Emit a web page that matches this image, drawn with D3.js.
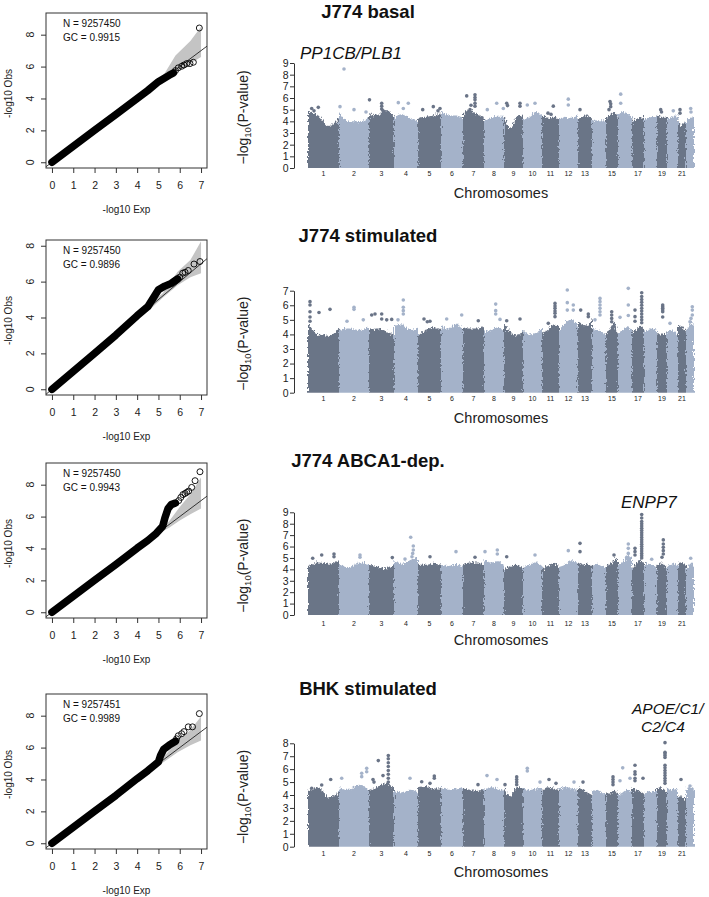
<!DOCTYPE html>
<html><head><meta charset="utf-8">
<script src="https://cdn.jsdelivr.net/npm/d3@7"></script>
<style>body{margin:0;background:#fff} text{font-family:Arial,"Liberation Sans",Helvetica,sans-serif}</style>
</head><body><svg id="c" width="709" height="897"></svg>
<script>
// ---------------- DATA ----------------
const panelTitles = ["J774 basal", "J774 stimulated", "J774 ABCA1-dep.", "BHK stimulated"];
const qqN = ["9257450", "9257450", "9257450", "9257451"];
const qqGC = ["0.9915", "0.9896", "0.9943", "0.9989"];
const qqTicksX = [0, 1, 2, 3, 4, 5, 6, 7];
const qqTicksY = [0, 2, 4, 6, 8];
const qqYMax = [9, 8, 9, 9];

// bulk of QQ points (expected, observed)
const qqBulk1 = [[0,0],[1,1],[2,2],[3,3],[4,4],[4.5,4.5],[5,5.05],[5.5,5.45],[5.7,5.6]];
const qqBulk2 = [[0,0],[1,1],[2,2],[3,3.02],[4,4.1],[4.5,4.6],[5.0,5.55],[5.3,5.75],[5.6,5.9],[5.9,6.15]];
const qqBulk3 = [[0,0],[1,1],[2,2],[3,3],[4,4.02],[4.5,4.5],[4.9,4.95],[5.2,5.4],[5.3,5.9],[5.45,6.5],[5.6,6.75],[5.8,6.85]];
const qqBulk4 = [[0,0],[1,1],[2,2],[3,3],[4,4.05],[4.5,4.55],[5.0,5.1],[5.1,5.5],[5.25,5.9],[5.5,6.15],[5.8,6.4]];
// tail points drawn as open circles
const qqTail1 = [[5.8,5.75],[5.93,5.92],[6.09,6.02],[6.2,6.1],[6.33,6.19],[6.48,6.19],[6.64,6.27],[6.92,8.42]];
const qqTail2 = [[6.0,6.25],[6.14,6.47],[6.25,6.52],[6.4,6.62],[6.67,6.98],[6.95,7.12]];
const qqTail3 = [[5.95,7.0],[6.05,7.2],[6.15,7.38],[6.25,7.45],[6.33,7.52],[6.42,7.6],[6.56,7.83],[6.72,8.25],[6.95,8.81]];
const qqTail4 = [[5.85,6.55],[5.93,6.74],[6.09,6.87],[6.2,7.0],[6.4,7.3],[6.6,7.3],[6.92,8.13]];
// confidence band: expected, lower, upper
const qqBandX1 = [4.8, 5.3, 5.8, 6.5, 7.0], qqBandLo1 = [4.75, 5.2, 5.65, 6.2, 6.6], qqBandHi1 = [4.9, 5.6, 6.7, 7.6, 8.5];
const qqBandX2 = [4.6, 5.2, 5.9, 6.5, 7.0], qqBandLo2 = [4.45, 5.1, 5.8, 6.25, 6.47], qqBandHi2 = [4.75, 5.35, 6.55, 7.2, 8.25];
const qqBandX3 = [4.9, 5.5, 6.0, 6.5, 7.0], qqBandLo3 = [4.85, 5.3, 5.75, 6.15, 6.5], qqBandHi3 = [5.0, 5.7, 6.6, 7.4, 8.45];
const qqBandX4 = [4.7, 5.3, 5.9, 6.5, 7.0], qqBandLo4 = [4.6, 5.15, 5.7, 6.15, 6.45], qqBandHi4 = [4.8, 5.5, 6.4, 7.1, 7.95];

// Manhattan
const chrNames = ["1","2","3","4","5","6","7","8","9","10","11","12","13","14","15","16","17","18","19","20","21","22"];
const chrSpan = [31,30,25,24,23,22,21,20,19,19,17,19,14,14,12,14,12,13,10,11,8,8];
const chrAxisLabels = ["1","2","3","4","5","6","7","8","9","10","11","12","13","15","17","19","21"];
const manYMax = [9, 7, 9, 8];

// upper edge of the dense cloud, 4 samples per chromosome
const envBasal = [[4.9,4.5,3.6,4.3],[4.8,4.0,4.0,4.3],[4.7,4.5,5.0,4.4],[4.3,4.6,4.3,4.0],[4.3,4.4,4.5,4.7],[5.0,4.5,4.5,4.3],[4.6,5.0,4.6,4.2],[4.0,4.3,4.4,4.4],[4.6,3.4,4.4,4.5],[4.2,4.4,4.8,4.5],[4.7,4.3,4.4,4.2],[4.2,4.4,4.3,4.5],[4.2,4.4,4.5,4.1],[4.0,4.1,4.1,4.0],[4.3,4.6,4.8,4.2],[4.5,4.8,4.7,4.3],[4.1,4.2,4.3,4.4],[4.2,4.3,4.4,4.3],[4.5,4.4,4.3,4.3],[4.2,4.3,4.5,4.4],[4.3,3.6,3.9,3.8],[4.1,4.2,4.3,4.4]];
const envStim = [[4.8,4.0,3.9,4.4],[4.3,4.4,4.3,4.5],[4.3,4.4,4.2,4.0],[4.6,4.7,4.3,4.4],[3.9,4.3,4.5,4.3],[4.6,4.4,4.7,4.4],[4.5,4.4,4.4,4.6],[4.2,4.3,4.5,4.2],[4.7,4.2,3.9,4.3],[4.3,4.0,4.1,4.4],[4.1,4.3,4.7,4.5],[4.2,4.8,5.0,4.5],[4.9,4.7,4.6,5.1],[4.4,4.3,4.2,4.0],[4.0,4.4,4.8,4.0],[4.1,4.3,4.5,4.3],[4.2,4.3,4.6,4.3],[4.2,4.3,4.4,4.3],[4.2,4.0,4.0,4.2],[4.1,4.3,4.2,4.0],[4.6,4.6,4.4,4.2],[4.3,4.5,4.9,4.6]];
const envAbca = [[4.3,4.6,4.5,4.8],[4.5,4.2,4.6,4.5],[4.4,4.2,4.1,4.4],[4.7,4.5,4.8,5.2],[4.4,4.4,4.5,4.4],[4.4,4.3,4.4,4.3],[4.4,4.6,4.6,4.4],[4.8,4.6,4.7,4.4],[4.0,4.3,4.4,4.1],[4.2,4.4,4.6,4.3],[4.0,4.3,4.5,4.3],[4.2,4.4,4.8,4.5],[4.6,4.4,4.5,4.3],[4.3,4.5,4.3,4.2],[4.3,4.5,4.8,5.0],[4.4,4.6,5.2,5.0],[4.1,4.5,4.8,4.6],[4.3,4.5,4.4,4.1],[4.3,4.6,4.5,4.0],[4.3,4.4,4.5,4.3],[4.5,4.6,4.5,4.4],[4.1,4.3,4.6,4.2]];
const envBhk = [[4.3,4.6,3.8,4.2],[4.5,4.4,4.8,4.4],[4.4,4.6,4.9,4.5],[4.3,4.2,4.4,4.2],[4.6,4.7,4.5,4.5],[4.6,4.4,4.5,4.6],[4.5,4.4,4.3,4.5],[4.4,4.6,4.5,4.3],[4.5,3.9,4.6,4.5],[4.5,4.4,4.5,4.6],[4.3,4.6,4.5,4.4],[4.5,4.6,4.5,4.4],[4.6,4.4,4.2,4.0],[4.3,4.4,4.2,4.1],[4.3,4.1,4.4,4.1],[4.0,4.2,4.4,4.2],[4.6,4.4,4.3,4.1],[4.0,4.3,4.2,4.4],[4.5,4.6,4.4,4.3],[4.6,4.4,4.5,4.4],[3.8,3.9,3.8,3.6],[4.4,4.6,4.6,4.4]];

// isolated points: [chromosome, position within chromosome, -log10 P]
const peaksBasal = [[1,3.7,5.1],[1,10.3,5.2],[1,6,4.9],[2,5,8.48],[2,1,5.26],[2,15,5.0],[2,27,4.8],[3,0.5,5.84],[3,12.7,5.55],[3,12.7,5.3],[3,12.7,5.05],[3,14,4.9],[4,4.3,5.6],[4,9.3,5.1],[4,14.3,5.55],[5,4.7,5.0],[5,15.3,5.26],[5,20,4.9],[5,22,5.1],[7,3.7,6.18],[7,12,6.27],[7,12,6.04],[7,12,5.84],[7,12,5.55],[7,12,5.3],[7,8,5.38],[7,7,5.0],[7,19,4.3],[8,3.3,5.0],[8,12.7,5.55],[8,19.3,5.1],[9,2.7,5.55],[9,3.5,5.35],[9,16,5.55],[9,16,5.3],[10,4.3,5.4],[10,12,5.55],[11,11.3,5.3],[11,6,4.7],[11,9,4.6],[12,9.3,5.9],[12,9.3,5.4],[13,2,5.0],[15,4,5.7],[15,4.7,5.5],[15,4.7,5.26],[15,3,5.0],[16,2.7,6.33],[16,2.7,5.55],[19,3.7,5.0],[19,4.5,4.8],[20,6.3,4.9],[21,2,5.0],[21,2,4.7],[22,4.7,5.1],[22,5,4.8]];
const peaksStim = [[1,2,6.25],[1,2,6.02],[1,2,5.56],[1,2,5.2],[1,2,4.9],[1,11,5.5],[1,22,5.72],[2,15,5.86],[2,15,5.72],[2,24.3,5.0],[2,8,4.9],[3,2.7,5.33],[3,6,5.4],[3,12.7,5.4],[3,12.7,5.06],[3,17.7,5.0],[3,22.7,5.03],[4,9.3,6.36],[4,9.3,5.86],[4,9.3,5.63],[4,9.3,5.4],[4,4,5.0],[5,6,5.06],[5,9.3,4.87],[5,12,4.9],[6,5.7,5.06],[6,20.7,5.33],[7,15.3,4.94],[8,11.7,6.08],[8,11.7,5.63],[8,11.7,5.4],[8,16,5.03],[9,2.7,4.94],[9,16,5.06],[11,13,6.13],[11,13,5.95],[11,13,5.79],[11,13,5.6],[11,13,5.45],[11,13,5.22],[11,6.3,4.76],[12,8.3,7.05],[12,8.3,6.18],[12,8.3,5.67],[12,14.3,6.02],[12,14.3,5.67],[13,2.7,5.67],[13,10.3,5.4],[13,10.3,5.22],[14,8,6.47],[14,8,6.25],[14,8,6.02],[14,8,5.79],[14,8,5.56],[14,8,5.33],[14,3,5.0],[15,5.7,5.56],[15,5.7,5.33],[15,5.7,5.1],[15,5.7,4.87],[16,2,5.17],[16,10.3,6.02],[16,10.3,7.16],[16,10.3,5.3],[17,9.7,6.86],[17,9.7,6.6],[17,9.7,6.4],[17,9.7,6.2],[17,9.7,6.0],[17,9.7,5.8],[17,9.7,5.6],[17,9.7,5.4],[17,9.7,5.2],[17,9.7,5.0],[17,9.7,4.8],[17,3,5.67],[17,3,5.22],[17,3,4.9],[19,5.7,6.02],[19,5.7,5.9],[19,5.7,5.79],[19,5.7,5.67],[19,5.7,5.56],[19,5.7,5.2],[20,3,4.76],[22,6.3,5.9],[22,6.3,5.67],[22,6.3,5.33],[22,5,5.1],[22,4,4.87]];
const peaksAbca = [[1,4.7,4.97],[1,13.7,5.26],[1,26,5.35],[1,26,5.1],[2,21,5.26],[2,21,5.06],[3,23.3,5.03],[4,16.7,6.81],[4,19.3,6.05],[4,19.3,5.7],[4,18.7,5.4],[4,18,5.1],[4,11,4.9],[5,12,5.1],[6,15,5.55],[7,12,5.06],[8,1,5.55],[8,13.3,5.7],[8,13.3,5.35],[9,2.7,5.1],[10,12,5.26],[12,9.3,5.64],[13,2,6.28],[13,2,5.55],[15,8,5.26],[16,10.3,6.22],[16,10.3,5.84],[16,10.3,5.4],[16,8.7,5.06],[17,9.7,8.8],[17,9.7,8.5],[17,9.7,8.2],[17,9.7,8.0],[17,9.7,7.8],[17,9.7,7.6],[17,9.7,7.4],[17,9.7,7.2],[17,9.7,7.0],[17,9.7,6.8],[17,9.7,6.6],[17,9.7,6.4],[17,9.7,6.2],[17,9.7,6.0],[17,9.7,5.8],[17,9.7,5.6],[17,9.7,5.4],[17,9.7,5.2],[17,9.7,5.0],[17,3,5.84],[17,3,5.55],[17,3,5.26],[18,7.7,4.88],[19,6.3,6.58],[19,6.3,6.22],[19,6.3,5.93],[19,6.3,5.64],[19,6.3,5.35],[19,5,5.06],[22,4.7,4.97]];
const peaksBhk = [[1,3.7,4.52],[1,13.7,4.77],[1,22.7,5.2],[2,2.7,5.3],[2,22.7,5.68],[2,22.7,5.42],[2,27.7,6.06],[2,27.7,5.8],[3,9.3,6.66],[3,19.3,7.05],[3,19.3,6.8],[3,19.3,6.5],[3,19.3,6.2],[3,19.3,5.9],[3,19.3,5.6],[3,19.3,5.3],[3,19.3,5.0],[3,14,5.5],[3,4,5.2],[3,5,5.0],[4,16,5.3],[5,3.7,5.03],[5,16.3,5.47],[5,16.3,5.3],[5,12,4.9],[7,15,4.8],[8,3,5.5],[8,13,5.2],[9,12.7,5.4],[9,12.7,5.2],[9,12.7,5.0],[9,12.7,4.8],[9,1,4.8],[10,4.3,6.06],[10,4.3,5.86],[10,17,5.0],[11,7,5.2],[11,14,4.9],[12,15,5.0],[13,5,5.0],[15,7,5.4],[15,7,5.2],[15,7,5.0],[15,7,4.8],[16,4.7,6.1],[16,12,5.3],[16,2,5.1],[17,3,6.3],[17,3,5.8],[17,3,5.6],[17,3,5.3],[17,3,5.1],[17,11,5.3],[19,8,8.05],[19,8,7.3],[19,8,7.2],[19,8,7.05],[19,8,6.9],[19,8,6.3],[19,8,6.1],[19,8,5.9],[19,8,5.7],[19,8,5.5],[19,8,5.3],[19,8,5.1],[19,8,4.9],[21,3,5.2],[22,4,4.7]];

const geneLabels = [["PP1CB/PLB1"], [], ["ENPP7"], ["APOE/C1/", "C2/C4"]];

// ---------------- LAYOUT ----------------
const svg = d3.select("#c");
svg.append("rect").attr("width", 709).attr("height", 897).attr("fill", "#fff");
const FONT = 'Arial,"Liberation Sans",Helvetica,sans-serif';
const DARK = "#6a7487", LIGHT = "#a4b2c9";

const defs = svg.append("defs");
const flt = defs.append("filter").attr("id", "rough").attr("x", "-5%").attr("y", "-10%").attr("width", "110%").attr("height", "120%");
flt.append("feTurbulence").attr("type", "fractalNoise").attr("baseFrequency", "0.9 0.35").attr("numOctaves", 2).attr("seed", 4).attr("result", "n");
flt.append("feDisplacementMap").attr("in", "SourceGraphic").attr("in2", "n").attr("scale", 6).attr("xChannelSelector", "R").attr("yChannelSelector", "G");

const qq = [
  {top: 13, bulk: qqBulk1, tail: qqTail1, bx: qqBandX1, lo: qqBandLo1, hi: qqBandHi1},
  {top: 240, bulk: qqBulk2, tail: qqTail2, bx: qqBandX2, lo: qqBandLo2, hi: qqBandHi2},
  {top: 463, bulk: qqBulk3, tail: qqTail3, bx: qqBandX3, lo: qqBandLo3, hi: qqBandHi3},
  {top: 694, bulk: qqBulk4, tail: qqTail4, bx: qqBandX4, lo: qqBandLo4, hi: qqBandHi4}
];
const BOXL = 46, BOXW = 161, BOXH = 155;

qq.forEach((p, i) => {
  const g = svg.append("g");
  const x = d3.scaleLinear().domain([-0.28, 7.28]).range([BOXL, BOXL + BOXW]);
  const ym = qqYMax[i];
  const y = d3.scaleLinear().domain([-0.04 * ym, 1.04 * ym]).range([p.top + BOXH, p.top]);
  const clipId = "clip" + i;
  g.append("clipPath").attr("id", clipId).append("rect")
    .attr("x", BOXL).attr("y", p.top).attr("width", BOXW).attr("height", BOXH);
  const inner = g.append("g").attr("clip-path", `url(#${clipId})`);
  const bandData = p.bx.map((v, k) => ({x: v, lo: p.lo[k], hi: p.hi[k]}));
  inner.append("path").datum(bandData)
    .attr("d", d3.area().x(d => x(d.x)).y0(d => y(d.lo)).y1(d => y(d.hi)))
    .attr("fill", "#c4c4c4");
  inner.append("line").attr("x1", x(-0.3)).attr("y1", y(-0.3)).attr("x2", x(7.3)).attr("y2", y(7.3))
    .attr("stroke", "#222").attr("stroke-width", 0.9);
  inner.append("path").datum(p.bulk)
    .attr("d", d3.line().x(d => x(d[0])).y(d => y(d[1])))
    .attr("fill", "none").attr("stroke", "#000").attr("stroke-width", 7.5)
    .attr("stroke-linecap", "round").attr("stroke-linejoin", "round");
  inner.selectAll("circle.t").data(p.tail).enter().append("circle")
    .attr("cx", d => x(d[0])).attr("cy", d => y(d[1])).attr("r", 3)
    .attr("fill", "none").attr("stroke", "#000").attr("stroke-width", 0.9);
  g.append("rect").attr("x", BOXL).attr("y", p.top).attr("width", BOXW).attr("height", BOXH)
    .attr("fill", "none").attr("stroke", "#333").attr("stroke-width", 1);
  const xa = g.append("g").attr("transform", `translate(0,${p.top + BOXH})`)
    .call(d3.axisBottom(x).tickValues(qqTicksX).tickSize(5).tickSizeOuter(0).tickPadding(9).tickFormat(d3.format("d")));
  xa.select(".domain").remove();
  xa.selectAll("line").attr("stroke", "#333");
  xa.selectAll("text").attr("font-size", 10.5).attr("font-family", FONT).attr("fill", "#222");
  const ya = g.append("g").attr("transform", `translate(${BOXL},0)`)
    .call(d3.axisLeft(y).tickValues(qqTicksY).tickSize(5).tickSizeOuter(0).tickFormat(""));
  ya.select(".domain").remove();
  ya.selectAll("line").attr("stroke", "#333");
  g.selectAll("text.yl").data(qqTicksY).enter().append("text")
    .attr("transform", d => `translate(33.5,${y(d)}) rotate(-90)`)
    .attr("text-anchor", "middle").attr("font-size", 10.5).attr("font-family", FONT).attr("fill", "#222")
    .text(d => d);
  g.append("text").attr("transform", `translate(12,${p.top + BOXH / 2 + 3}) rotate(-90)`)
    .attr("text-anchor", "middle").attr("font-size", 10).attr("font-family", FONT).attr("fill", "#222")
    .text("-log10 Obs");
  g.append("text").attr("x", BOXL + BOXW / 2).attr("y", p.top + BOXH + 45)
    .attr("text-anchor", "middle").attr("font-size", 10).attr("font-family", FONT).attr("fill", "#222")
    .text("-log10 Exp");
  g.append("text").attr("x", 63).attr("y", p.top + 14).attr("font-size", 10).attr("font-family", FONT).attr("fill", "#111")
    .text("N = " + qqN[i]);
  g.append("text").attr("x", 63).attr("y", p.top + 27.5).attr("font-size", 10).attr("font-family", FONT).attr("fill", "#111")
    .text("GC = " + qqGC[i]);
});

// Manhattan plots
const man = [
  {y0: 168, yTop: 63, titleY: 17.5, chrY: 176, xlabY: 198, env: envBasal, peaks: peaksBasal, labs: [[300, 59]], fs: 17},
  {y0: 392.7, yTop: 290.7, titleY: 242, chrY: 401, xlabY: 423, env: envStim, peaks: peaksStim, labs: [], fs: 17},
  {y0: 615, yTop: 512.3, titleY: 467, chrY: 625.5, xlabY: 645, env: envAbca, peaks: peaksAbca, labs: [[621, 508]], fs: 17},
  {y0: 846.7, yTop: 743.3, titleY: 695, chrY: 855.5, xlabY: 877, env: envBhk, peaks: peaksBhk, labs: [[632, 713.5], [641, 732]], fs: 15.5}
];
const chrStart = [0].concat(Array.from(d3.cumsum(chrSpan)));
const total = chrStart[chrStart.length - 1];
const xm = d3.scaleLinear().domain([0, total]).range([308, 694]);

man.forEach((p, i) => {
  const g = svg.append("g");
  const y = d3.scaleLinear().domain([0, manYMax[i]]).range([p.y0, p.yTop]);
  const col = k => (k % 2 === 0 ? DARK : LIGHT);
  const cid = "mclip" + i;
  defs.append("clipPath").attr("id", cid).append("rect")
    .attr("x", xm(0) - 1).attr("y", p.yTop - 30).attr("width", xm(total) - xm(0) + 2).attr("height", p.y0 - p.yTop + 30);
  const cl = g.append("g").attr("clip-path", `url(#${cid})`);
  const cloud = cl.append("g").attr("filter", "url(#rough)");
  p.env.forEach((vals, k) => {
    const pts = vals.map((v, j) => [chrStart[k] + chrSpan[k] * j / (vals.length - 1), v]);
    cloud.append("path").datum(pts)
      .attr("d", d3.area().curve(d3.curveMonotoneX).x(d => xm(d[0])).y0(p.y0 + 6).y1(d => y(d[1])))
      .attr("fill", col(k));
  });
  g.selectAll("circle").data(p.peaks).enter().append("circle")
    .attr("cx", d => xm(chrStart[d[0] - 1] + d[1]))
    .attr("cy", d => y(d[2])).attr("r", 1.8)
    .attr("fill", d => col(d[0] - 1));
  const ya = g.append("g").attr("transform", "translate(294,0)")
    .call(d3.axisLeft(y).tickValues(d3.range(0, manYMax[i] + 1)).tickSize(4).tickSizeOuter(0).tickPadding(1.5).tickFormat(d3.format("d")));
  ya.selectAll("path,line").attr("stroke", "#333");
  ya.selectAll("text").attr("font-size", 10.5).attr("font-family", FONT).attr("fill", "#222");
  g.selectAll("text.chr").data(chrAxisLabels).enter().append("text")
    .attr("x", d => { const k = chrNames.indexOf(d); return xm(chrStart[k] + chrSpan[k] / 2); })
    .attr("y", p.chrY).attr("text-anchor", "middle").attr("font-size", 7).attr("font-family", FONT).attr("fill", "#222")
    .text(d => d);
  g.append("text").attr("x", 501).attr("y", p.xlabY).attr("text-anchor", "middle")
    .attr("font-size", 14.5).attr("font-family", FONT).attr("fill", "#222").text("Chromosomes");
  const yt = g.append("text").attr("transform", `translate(248,${(p.y0 + p.yTop) / 2 + 2}) rotate(-90)`)
    .attr("text-anchor", "middle").attr("font-size", 14).attr("font-family", FONT).attr("fill", "#222");
  yt.append("tspan").text("\u2212log");
  yt.append("tspan").attr("font-size", 9.5).attr("dy", 3).text("10");
  yt.append("tspan").attr("dy", -3).text("(P-value)");
  g.append("text").attr("x", 368).attr("y", p.titleY).attr("text-anchor", "middle")
    .attr("font-size", 18.5).attr("font-weight", "bold").attr("font-family", FONT).attr("fill", "#111")
    .text(panelTitles[i]);
  geneLabels[i].forEach((t, j) => {
    g.append("text").attr("x", p.labs[j][0]).attr("y", p.labs[j][1])
      .attr("font-size", p.fs).attr("font-style", "italic").attr("font-family", FONT).attr("fill", "#111")
      .text(t);
  });
});
</script></body></html>
